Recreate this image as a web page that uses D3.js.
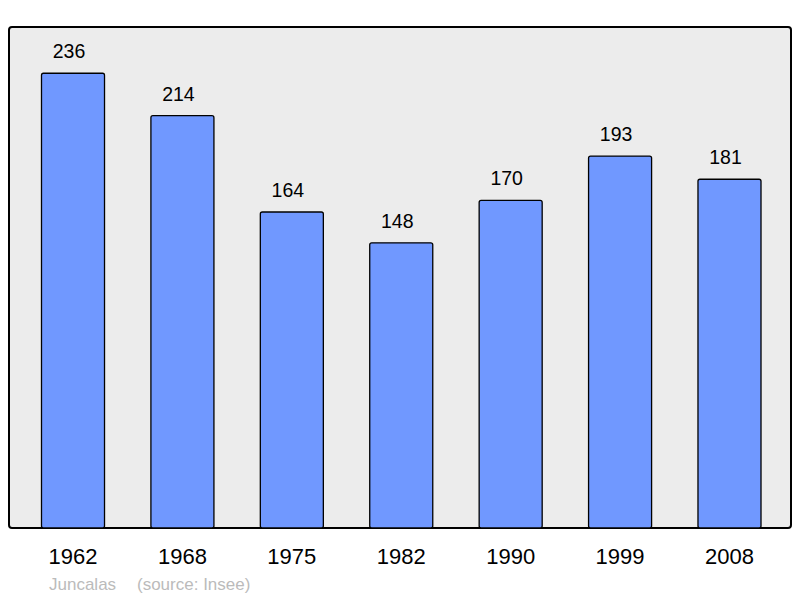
<!DOCTYPE html>
<html><head><meta charset="utf-8">
<script src="https://cdn.jsdelivr.net/npm/d3@7"></script>
<style>body{margin:0;background:#fff}svg{display:block;font-family:"Liberation Sans",Arial,sans-serif}</style>
</head><body><svg id="c" width="800" height="598"></svg>
<script>
const years = ["1962","1968","1975","1982","1990","1999","2008"];
const population = [236,214,164,148,170,193,181];
const commune = "Juncalas";
const source = "(source: Insee)";

const svg = d3.select("#c");
const x = d3.scaleBand().domain(years).range([18.3,784.2]).paddingInner(0.424).paddingOuter(0.212);
const y = d3.scaleLinear().domain([0,260]).range([528,27]);

svg.append("rect").attr("x",9).attr("y",27).attr("width",782).attr("height",501)
  .attr("rx",3).attr("fill","#ececec").attr("stroke","#000").attr("stroke-width",2);

svg.selectAll("rect.bar").data(population).join("rect").attr("class","bar")
  .attr("x",(d,i)=>x(years[i])).attr("y",d=>y(d))
  .attr("width",x.bandwidth()).attr("height",d=>y(0)-y(d))
  .attr("rx",2).attr("fill","#7098ff").attr("stroke","#000").attr("stroke-width",1.3);

svg.selectAll("text.val").data(population).join("text").attr("class","val")
  .attr("x",(d,i)=>x(years[i])+x.bandwidth()/2-4).attr("y",d=>y(d)-15)
  .attr("text-anchor","middle").attr("font-size",19.5).attr("fill","#000").text(d=>d);

const ax = d3.axisBottom(x).tickSize(0).tickPadding(0);
const g = svg.append("g").attr("transform","translate(0,548)").call(ax);
g.select(".domain").remove();
g.selectAll("text").attr("font-size",22).attr("fill","#000").attr("dy","0.71em")
  .style("font-family","'Liberation Sans',Arial,sans-serif");

svg.append("text").attr("x",49).attr("y",590).attr("font-size",17).attr("fill","#bbb").text(commune);
svg.append("text").attr("x",137).attr("y",590).attr("font-size",17).attr("fill","#bbb").text(source);
</script></body></html>
